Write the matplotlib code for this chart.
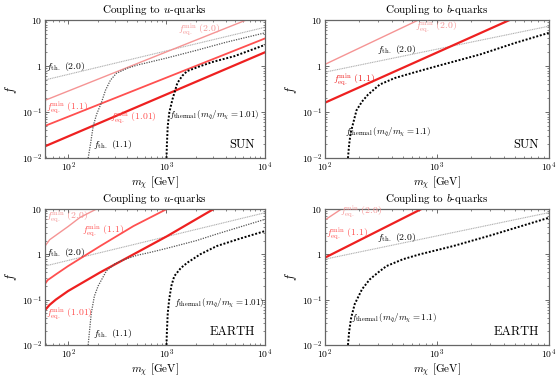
import numpy as np
import matplotlib
matplotlib.use("Agg")
import matplotlib.pyplot as plt
from matplotlib.ticker import FixedLocator, LogLocator, NullFormatter

plt.rcParams.update({
    'font.family': 'serif',
    'font.serif': ['cmr10', 'DejaVu Serif'],
    'mathtext.fontset': 'cm',
    'axes.formatter.use_mathtext': True,
    'axes.unicode_minus': False,
    'font.size': 7,
})

# ---- data (m_chi in GeV, f) ----
# top-left: SUN, u-quarks
sun_u_th20_m = [58, 1e4]
sun_u_th20_f = [0.5, 7.0]
sun_u_eq20_m = [58, 6400]
sun_u_eq20_f = [0.18, 10]
sun_u_eq11_m = [58, 1e4]
sun_u_eq11_f = [0.05, 4.0]
sun_u_eq101_m = [58, 1e4]
sun_u_eq101_f = [0.018, 2.0]
sun_u_th11_m = [160, 170, 180, 195, 218, 240, 270, 310, 400, 500, 700, 1000, 2000, 4000, 1e4]
sun_u_th11_f = [0.01, 0.022, 0.05, 0.09, 0.16, 0.3, 0.5, 0.7, 0.9, 1.05, 1.25, 1.5, 2.2, 3.3, 5.3]
sun_u_thermal_m = [1000, 1010, 1030, 1070, 1150, 1290, 1450, 1620, 2200, 3000, 4900, 1e4]
sun_u_thermal_f = [0.01, 0.02, 0.05, 0.1, 0.19, 0.43, 0.62, 0.78, 1.0, 1.25, 1.65, 2.9]

# top-right: SUN, b-quarks
sun_b_eq20_m = [100, 680]
sun_b_eq20_f = [1.09, 10]
sun_b_eq11_m = [100, 4430]
sun_b_eq11_f = [0.16, 10]
sun_b_th20_m = [100, 1e4]
sun_b_th20_f = [0.74, 7.4]
sun_b_thermal_m = [161, 165, 170, 180, 192, 215, 243, 310, 420, 615, 1000, 2440, 5000, 1e4]
sun_b_thermal_f = [0.01, 0.02, 0.035, 0.06, 0.11, 0.17, 0.24, 0.4, 0.55, 0.72, 1.0, 1.8, 3.2, 5.3]

# bottom-left: EARTH, u-quarks
earth_u_eq20_m = [58, 65, 80, 100, 132, 195]
earth_u_eq20_f = [1.5, 2.1, 2.9, 4.1, 6.5, 10]
earth_u_eq11_m = [58, 62, 68, 75, 100, 212, 462, 1010]
earth_u_eq11_f = [0.22, 0.27, 0.31, 0.36, 0.55, 1.52, 4.2, 10]
earth_u_eq101_m = [58, 65, 75, 100, 212, 1010, 3020]
earth_u_eq101_f = [0.058, 0.077, 0.1, 0.155, 0.4, 2.5, 10]
earth_u_th20_m = [58, 1e4]
earth_u_th20_f = [0.55, 8.25]
earth_u_th11_m = [160, 165, 172, 185, 202, 245, 300, 363, 500, 680, 1000, 2000, 3240, 1e4]
earth_u_th11_f = [0.01, 0.02, 0.05, 0.12, 0.2, 0.43, 0.62, 0.75, 0.95, 1.1, 1.35, 2.0, 2.8, 5.9]
earth_u_thermal_m = [1000, 1010, 1030, 1065, 1120, 1200, 1400, 1640, 2200, 3240, 5500, 1e4]
earth_u_thermal_f = [0.01, 0.02, 0.05, 0.1, 0.2, 0.33, 0.5, 0.66, 1.0, 1.52, 2.2, 3.25]

# bottom-right: EARTH, b-quarks
earth_b_eq20_m = [100, 141]
earth_b_eq20_f = [5.7, 10]
earth_b_eq11_m = [100, 730]
earth_b_eq11_f = [0.84, 10]
earth_b_th20_m = [100, 1e4]
earth_b_th20_f = [0.78, 8.3]
earth_b_thermal_m = [161, 165, 172, 185, 215, 252, 300, 355, 500, 705, 1400, 3000, 1e4]
earth_b_thermal_f = [0.01, 0.02, 0.04, 0.08, 0.17, 0.28, 0.4, 0.55, 0.78, 1.0, 1.52, 2.6, 6.4]

ytick_vals = [1e-2, 1e-1, 1, 10]
ytick_labels = [r'$10^{-2}$', r'$10^{-1}$', r'$1$', r'$10$']
xtick_vals = [1e2, 1e3, 1e4]
xtick_labels = [r'$10^{2}$', r'$10^{3}$', r'$10^{4}$']

SALMON = '#f59494'
RED1 = '#ff5050'
RED2 = '#ee2020'
LGRAY = '#b0b0b0'
DGRAY = '#555555'

EQ = r'$f^{\rm min}_{\rm eq.}$'
TH = r'$f_{\rm th.}$'


def style_axes(ax, xmin, title, place):
    ax.set_xscale('log')
    ax.set_yscale('log')
    ax.set_xlim(xmin, 1e4)
    ax.set_ylim(1e-2, 10)
    ax.yaxis.set_major_locator(FixedLocator(ytick_vals))
    ax.set_yticklabels(ytick_labels)
    ax.xaxis.set_major_locator(FixedLocator(xtick_vals))
    ax.set_xticklabels(xtick_labels)
    ax.xaxis.set_minor_locator(LogLocator(base=10, subs=np.arange(2, 10)))
    ax.yaxis.set_minor_locator(LogLocator(base=10, subs=np.arange(2, 10)))
    ax.xaxis.set_minor_formatter(NullFormatter())
    ax.yaxis.set_minor_formatter(NullFormatter())
    ax.tick_params(which='both', direction='in', top=True, right=True,
                   color='#555555', labelsize=7, pad=2)
    ax.tick_params(which='major', length=3, width=0.6)
    ax.tick_params(which='minor', length=1.6, width=0.5)
    for s in ax.spines.values():
        s.set_color('#666666')
        s.set_linewidth(0.9)
    ax.set_title(title, fontsize=8, pad=5)
    ax.set_xlabel(r'$m_\chi$ [GeV]', fontsize=8, labelpad=0)
    ax.set_ylabel(r'$f$', fontsize=9, labelpad=2)
    ax.text(0.955, 0.095, place, transform=ax.transAxes, ha='right', va='center',
            fontsize=9)


fig = plt.figure(figsize=(5.6, 3.81), dpi=100)
ax1 = fig.add_axes([0.080, 0.585, 0.393, 0.362])
ax2 = fig.add_axes([0.580, 0.585, 0.400, 0.362])
ax3 = fig.add_axes([0.080, 0.0945, 0.393, 0.357])
ax4 = fig.add_axes([0.580, 0.0945, 0.400, 0.357])

dots_thin = dict(color=LGRAY, lw=0.8, ls=(0, (1, 0.6)))
dots_mid = dict(color=DGRAY, lw=0.9, ls=(0, (1, 1)))
dots_thick = dict(color='black', lw=1.4, ls=(0, (1, 0.9)))

# top-left
ax = ax1
ax.plot(sun_u_th20_m, sun_u_th20_f, **dots_thin)
ax.plot(sun_u_eq20_m, sun_u_eq20_f, color=SALMON, lw=1.0)
ax.plot(sun_u_eq11_m, sun_u_eq11_f, color=RED1, lw=1.3)
ax.plot(sun_u_eq101_m, sun_u_eq101_f, color=RED2, lw=1.6)
ax.plot(sun_u_th11_m, sun_u_th11_f, **dots_mid)
ax.plot(sun_u_thermal_m, sun_u_thermal_f, **dots_thick)
ax.text(60, 1.0, TH + ' (2.0)', va='center', fontsize=7)
ax.text(1320, 6.3, EQ + ' (2.0)', va='center', fontsize=7, color=SALMON)
ax.text(60, 0.122, EQ + ' (1.1)', va='center', fontsize=7, color=RED1)
ax.text(266, 0.077, EQ + ' (1.01)', va='center', fontsize=7, color=RED1)
ax.text(178, 0.0198, TH + ' (1.1)', va='center', fontsize=7)
ax.text(1050, 0.085, r'$f_{\rm thermal}\,(m_{\tilde q}/m_\chi=1.01)$', va='center', fontsize=6.5)
style_axes(ax, 58, r'Coupling to $u$-quarks', 'SUN')

# top-right
ax = ax2
ax.plot(sun_b_th20_m, sun_b_th20_f, **dots_thin)
ax.plot(sun_b_eq20_m, sun_b_eq20_f, color=SALMON, lw=1.0)
ax.plot(sun_b_eq11_m, sun_b_eq11_f, color=RED2, lw=1.6)
ax.plot(sun_b_thermal_m, sun_b_thermal_f, **dots_thick)
ax.text(635, 7.1, EQ + ' (2.0)', va='center', fontsize=7, color=SALMON)
ax.text(290, 2.3, TH + ' (2.0)', va='center', fontsize=7)
ax.text(118, 0.51, EQ + ' (1.1)', va='center', fontsize=7, color=RED2)
ax.text(150, 0.037, r'$f_{\rm thermal}\,(m_{\tilde q}/m_\chi=1.1)$', va='center', fontsize=6.5)
style_axes(ax, 100, r'Coupling to $b$-quarks', 'SUN')

# bottom-left
ax = ax3
ax.plot(earth_u_th20_m, earth_u_th20_f, **dots_thin)
ax.plot(earth_u_eq20_m, earth_u_eq20_f, color=SALMON, lw=1.0)
ax.plot(earth_u_eq11_m, earth_u_eq11_f, color=RED1, lw=1.3)
ax.plot(earth_u_eq101_m, earth_u_eq101_f, color=RED2, lw=1.6)
ax.plot(earth_u_th11_m, earth_u_th11_f, **dots_mid)
ax.plot(earth_u_thermal_m, earth_u_thermal_f, **dots_thick)
ax.text(60, 6.7, EQ + ' (2.0)', va='center', fontsize=7, color=SALMON)
ax.text(137, 3.25, EQ + ' (1.1)', va='center', fontsize=7, color=RED1)
ax.text(60, 1.1, TH + ' (2.0)', va='center', fontsize=7)
ax.text(60, 0.048, EQ + ' (1.01)', va='center', fontsize=7, color=RED1)
ax.text(178, 0.018, TH + ' (1.1)', va='center', fontsize=7)
ax.text(1180, 0.084, r'$f_{\rm thermal}\,(m_{\tilde q}/m_\chi=1.01)$', va='center', fontsize=6.5)
style_axes(ax, 58, r'Coupling to $u$-quarks', 'EARTH')

# bottom-right
ax = ax4
ax.plot(earth_b_th20_m, earth_b_th20_f, **dots_thin)
ax.plot(earth_b_eq20_m, earth_b_eq20_f, color=SALMON, lw=1.0)
ax.plot(earth_b_eq11_m, earth_b_eq11_f, color=RED2, lw=1.6)
ax.plot(earth_b_thermal_m, earth_b_thermal_f, **dots_thick)
ax.text(136, 8.6, EQ + ' (2.0)', va='center', fontsize=7, color=SALMON)
ax.text(103, 2.9, EQ + ' (1.1)', va='center', fontsize=7, color=RED1)
ax.text(290, 2.36, TH + ' (2.0)', va='center', fontsize=7)
ax.text(173, 0.039, r'$f_{\rm thermal}\,(m_{\tilde q}/m_\chi=1.1)$', va='center', fontsize=6.5)
style_axes(ax, 100, r'Coupling to $b$-quarks', 'EARTH')

fig.savefig('out.png', dpi=100)
